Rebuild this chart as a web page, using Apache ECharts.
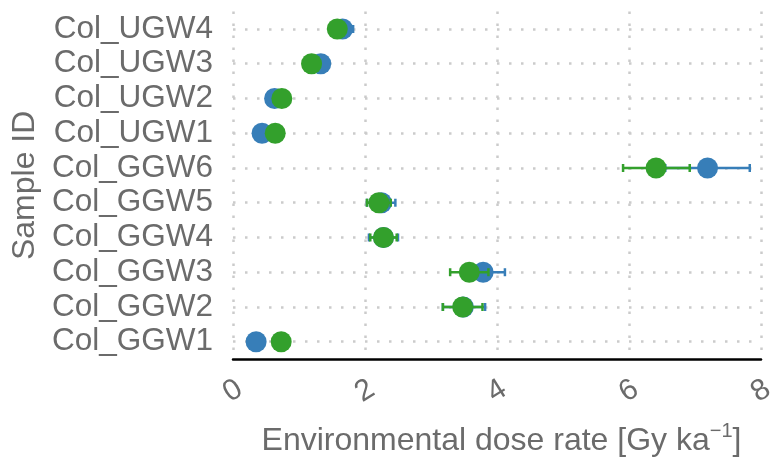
<!DOCTYPE html>
<html>
<head>
<meta charset="utf-8">
<script src="https://cdn.jsdelivr.net/npm/echarts@6/dist/echarts.min.js"></script>
<style>
	html, body { margin: 0; padding: 0; background: #ffffff; }
	#chart { width: 775px; height: 459px; }
</style>
</head>
<body>
<div id="chart"></div>
<script>
	// bottom to top, as the category axis draws them
	var samples = [ "Col_GGW1", "Col_GGW2", "Col_GGW3", "Col_GGW4", "Col_GGW5", "Col_GGW6",
			"Col_UGW1", "Col_UGW2", "Col_UGW3", "Col_UGW4" ];

	var blueDose = [ 0.35, 3.49, 3.79, 2.28, 2.25, 7.19, 0.44, 0.63, 1.33, 1.66 ];
	var blueLow = [ 0.33, 3.18, 3.46, 2.06, 2.03, 6.55, 0.40, 0.58, 1.25, 1.50 ];
	var blueHigh = [ 0.37, 3.82, 4.12, 2.50, 2.46, 7.83, 0.48, 0.68, 1.41, 1.82 ];

	var greenDose = [ 0.73, 3.48, 3.58, 2.28, 2.21, 6.41, 0.64, 0.74, 1.19, 1.58 ];
	var greenLow = [ 0.71, 3.18, 3.29, 2.08, 2.03, 5.91, 0.60, 0.69, 1.13, 1.48 ];
	var greenHigh = [ 0.75, 3.78, 3.87, 2.48, 2.39, 6.92, 0.68, 0.79, 1.25, 1.68 ];

	var xTicks = [ 0, 2, 4, 6, 8 ];

	var BLUE = "#377eb8";
	var GREEN = "#33a02c";
	var TEXT = "#6b6b6b";
	var FONT = "'Liberation Sans', Arial, sans-serif";

	function barData(low, high) {
		var out = [];
		for (var i = 0; i < samples.length; i++) {
			out.push([ low[i], high[i], samples[i] ]);
		}
		return out;
	}

	function pointData(values) {
		var out = [];
		for (var i = 0; i < samples.length; i++) {
			out.push([ values[i], samples[i] ]);
		}
		return out;
	}

	function renderErrorBar(color) {
		return function(params, api) {
			var cat = api.value(2);
			var a = api.coord([ api.value(0), cat ]);
			var b = api.coord([ api.value(1), cat ]);
			var h = 4;
			var style = { stroke : color, lineWidth : 2.5, fill : null };
			return {
				type : "group",
				children : [ {
					type : "line", shape : { x1 : a[0], y1 : a[1], x2 : b[0], y2 : b[1] }, style : style
				}, {
					type : "line", shape : { x1 : a[0], y1 : a[1] - h, x2 : a[0], y2 : a[1] + h }, style : style
				}, {
					type : "line", shape : { x1 : b[0], y1 : b[1] - h, x2 : b[0], y2 : b[1] + h }, style : style
				} ]
			};
		};
	}

	var gridDots = { color : "#cbcbcb", width : 2.5, type : [ 2.5, 9.5 ] };

	var chart = echarts.init(document.getElementById("chart"), null, { renderer : "canvas" });

	chart.setOption({
		animation : false,
		backgroundColor : "#ffffff",
		textStyle : { fontFamily : FONT },
		grid : { left : 233, right : 14, top : 11.6, bottom : 99.9, containLabel : false, outerBoundsMode : "none" },
		xAxis : {
			type : "value",
			min : xTicks[0],
			max : xTicks[xTicks.length - 1],
			interval : 2,
			axisLine : { show : true, lineStyle : { color : "#000000", width : 2.5 } },
			axisTick : { show : false },
			splitLine : { show : true, lineStyle : gridDots },
			axisLabel : {
				color : TEXT, fontSize : 30, fontFamily : FONT,
				rotate : 32, align : "center", verticalAlign : "middle", margin : 32
			},
			name : "{a|Environmental dose rate [Gy ka}{s|\u22121}{a|]}",
			nameLocation : "middle",
			nameGap : 62,
			nameTextStyle : {
				padding : [ 0, 0, 0, 9 ],
				rich : {
					a : { fontSize : 32, lineHeight : 40, color : TEXT, fontFamily : FONT },
					s : { fontSize : 20, lineHeight : 22, color : TEXT, fontFamily : FONT, verticalAlign : "top" }
				}
			}
		},
		yAxis : {
			type : "category",
			data : samples,
			boundaryGap : true,
			axisLine : { show : false },
			axisTick : { show : false },
			splitLine : { show : false },
			axisLabel : { color : TEXT, fontSize : 31.5, fontFamily : FONT, margin : 20, interval : 0 },
			name : "Sample ID",
			nameLocation : "middle",
			nameGap : 182,
			nameTextStyle : { color : TEXT, fontSize : 32, fontFamily : FONT }
		},
		series : [ {
			type : "custom",
			name : "blue bars",
			renderItem : renderErrorBar(BLUE),
			data : barData(blueLow, blueHigh),
			encode : { x : [ 0, 1 ], y : 2 },
			z : 2
		}, {
			type : "scatter",
			name : "blue",
			data : pointData(blueDose),
			symbolSize : 21,
			itemStyle : { color : BLUE, opacity : 1 },
			z : 3,
			markLine : {
				silent : true,
				symbol : "none",
				label : { show : false },
				lineStyle : gridDots,
				z : 1,
				data : samples.map(function(s) {
					return { yAxis : s };
				})
			}
		}, {
			type : "custom",
			name : "green bars",
			renderItem : renderErrorBar(GREEN),
			data : barData(greenLow, greenHigh),
			encode : { x : [ 0, 1 ], y : 2 },
			z : 4
		}, {
			type : "scatter",
			name : "green",
			data : pointData(greenDose),
			symbolSize : 21,
			itemStyle : { color : GREEN, opacity : 1 },
			z : 5
		} ]
	});
</script>
</body>
</html>
